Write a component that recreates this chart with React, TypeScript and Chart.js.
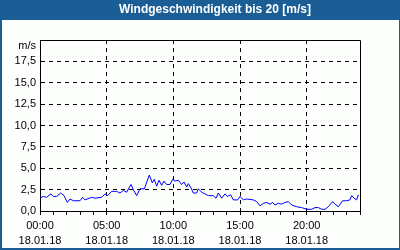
import React, { useEffect, useRef } from "react";
import { Chart, registerables } from "chart.js";

Chart.register(...registerables);

const titleText = "Windgeschwindigkeit bis 20 [m/s]";
const unitLabel = "m/s";
const dateLabel = "18.01.18";
const xLabelHours = [0, 5, 10, 15, 20];
const xTimeLabels = ["00:00", "05:00", "10:00", "15:00", "20:00"];

const hours = [
  0, 0.25, 0.5, 0.825, 1.0, 1.25, 1.55, 1.8, 2.05, 2.25, 2.5, 3.0, 3.2, 3.375, 3.875, 4.125,
  4.625, 4.875, 5.075, 5.375, 5.75, 6.0, 6.25, 6.5, 6.825, 7.0, 7.25, 7.5, 7.825, 8.2, 8.425,
  8.575, 8.75, 8.925, 9.125, 9.3, 9.5, 9.75, 9.95, 10.125, 10.375, 10.625, 10.8, 11.0, 11.125,
  11.325, 11.5, 11.75, 11.875, 12.125, 12.25, 12.625, 13.0, 13.2, 13.375, 13.625, 13.875, 14.05,
  14.3, 14.5, 14.825, 15.0, 15.25, 15.5, 16.0, 16.25, 16.5, 16.75, 17.0, 17.25, 17.45, 17.625,
  17.875, 18.125, 18.375, 18.625, 18.875, 19.25, 19.625, 20.0, 20.375, 20.625, 20.875, 21.125,
  21.375, 21.625, 21.95, 22.125, 22.375, 22.7, 23.0, 23.25, 23.375, 23.55, 23.75, 23.875,
];

const speeds = [
  1.5, 1.7, 1.6, 2.0, 1.7, 1.7, 2.1, 1.8, 1.0, 1.4, 1.2, 1.2, 1.6, 1.3, 1.6, 1.5,
  1.6, 2.0, 1.8, 2.3, 2.3, 2.1, 2.4, 2.2, 3.1, 2.5, 1.8, 2.6, 2.6, 4.2, 3.3,
  3.7, 2.9, 3.6, 3.0, 3.5, 3.1, 3.1, 3.7, 3.5, 3.6, 3.1, 3.4, 2.8, 3.2,
  2.7, 2.1, 2.1, 2.6, 2.2, 2.1, 1.8, 1.8, 1.5, 2.1, 1.5, 2.0, 1.7,
  1.9, 1.3, 1.3, 1.7, 1.3, 1.4, 1.3, 1.1, 0.6, 0.9, 1.0, 0.8, 1.0, 0.7,
  0.9, 0.8, 1.0, 1.1, 0.7, 0.5, 0.4, 0.2, 0.2, 0.4, 0.4, 0.2,
  0.2, 0.5, 1.1, 0.8, 0.5, 1.2, 1.2, 1.3, 1.8, 1.5, 1.3, 1.9,
];

const FONT = '"Liberation Sans", Arial, sans-serif';
const FRAME_BLUE = "#1b5e95";

const framePlugin = {
  id: "frame",
  beforeDraw(chart: any) {
    const ctx = chart.ctx;
    ctx.save();
    ctx.fillStyle = FRAME_BLUE;
    ctx.fillRect(0, 0, chart.width, chart.height);
    ctx.fillStyle = "#fcfffc";
    ctx.fillRect(2, 20, chart.width - 3, chart.height - 22);
    ctx.restore();
  },
  afterDraw(chart: any) {
    const ctx = chart.ctx;
    const { left, top, right, bottom } = chart.chartArea;
    ctx.save();
    ctx.strokeStyle = "#000";
    ctx.lineWidth = 1;
    ctx.beginPath();
    ctx.moveTo(Math.round(left) + 0.5, Math.round(top) + 0.5);
    ctx.lineTo(Math.round(right) + 0.5, Math.round(top) + 0.5);
    ctx.lineTo(Math.round(right) + 0.5, Math.round(bottom) + 0.5);
    ctx.stroke();
    ctx.fillStyle = "#fff";
    ctx.font = "bold 12px " + FONT;
    ctx.textAlign = "center";
    ctx.textBaseline = "middle";
    ctx.fillText(titleText, 215, 10);
    ctx.fillStyle = "#000";
    ctx.font = "11px " + FONT;
    ctx.textAlign = "right";
    ctx.fillText(unitLabel, 36, 46);
    ctx.restore();
  },
};

export default function App() {
  const ref = useRef<HTMLCanvasElement | null>(null);

  useEffect(() => {
    document.body.style.margin = "0";
    if (!ref.current) return;
    const data = hours.map((h, i) => ({ x: h, y: speeds[i] }));
    const chart = new Chart(ref.current, {
      type: "line",
      data: {
        datasets: [
          {
            data,
            borderColor: "#0000ff",
            borderWidth: 1,
            pointRadius: 0,
            tension: 0,
            fill: false,
          },
        ],
      },
      options: {
        animation: false,
        responsive: false,
        devicePixelRatio: 1,
        layout: { padding: { left: 0, top: 40, right: 40, bottom: 0 } },
        plugins: {
          legend: { display: false },
          title: { display: false },
          tooltip: { enabled: false },
        },
        scales: {
          x: {
            type: "linear",
            min: 0,
            max: 24,
            afterFit: (s: any) => {
              s.height = 39;
            },
            ticks: {
              stepSize: 1,
              autoSkip: false,
              maxRotation: 0,
              color: "#000",
              padding: 3,
              font: { family: FONT, size: 11, lineHeight: 15 / 11 },
              callback: (v: any) => {
                const idx = xLabelHours.indexOf(Number(v));
                return idx >= 0 ? [xTimeLabels[idx], dateLabel] : "";
              },
            },
            grid: {
              color: (c: any) =>
                c.tick && c.tick.value % 5 === 0 && c.tick.value > 0 && c.tick.value < 24
                  ? "#000"
                  : "rgba(0,0,0,0)",
              tickColor: "#000",
              tickLength: 4,
              lineWidth: 1,
            },
            border: { color: "#000", width: 1, dash: [4, 4] },
          },
          y: {
            min: 0,
            max: 20,
            afterFit: (s: any) => {
              s.width = 40;
            },
            ticks: {
              stepSize: 2.5,
              color: "#000",
              padding: 4,
              font: { family: FONT, size: 11 },
              callback: (v: any) => (Number(v) >= 20 ? "" : Number(v).toFixed(1).replace(".", ",")),
            },
            grid: {
              drawTicks: false,
              color: (c: any) =>
                c.tick && c.tick.value > 0 && c.tick.value < 20 ? "#000" : "rgba(0,0,0,0)",
              lineWidth: 1,
            },
            border: { color: "#000", width: 1, dash: [4, 4] },
          },
        },
      },
      plugins: [framePlugin],
    });
    return () => chart.destroy();
  }, []);

  return (
    <div style={{ width: 400, height: 250 }}>
      <canvas ref={ref} width={400} height={250} style={{ width: 400, height: 250, display: "block" }} />
    </div>
  );
}
